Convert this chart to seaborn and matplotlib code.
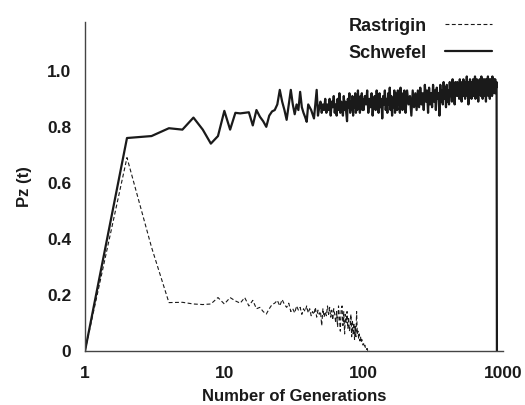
import matplotlib
matplotlib.use("Agg")
import matplotlib.pyplot as plt
import seaborn as sns
import pandas as pd
from matplotlib.ticker import FixedLocator, LogLocator, NullFormatter, FixedFormatter

# ---------------- data ----------------
# Rastrigin: one value per generation 1..110
rastrigin_gen = list(range(1, 111))
rastrigin_pz = [
    0.00, 0.69, 0.37, 0.172, 0.173, 0.167, 0.165, 0.167, 0.19, 0.167,
    0.19, 0.178, 0.17, 0.19, 0.16, 0.18, 0.15, 0.155, 0.14, 0.131,
    0.15, 0.165, 0.17, 0.18, 0.16, 0.183, 0.165, 0.155, 0.17, 0.14,
    0.15, 0.135, 0.16, 0.145, 0.155, 0.13, 0.15, 0.14, 0.16, 0.135,
    0.15, 0.125, 0.14, 0.13, 0.155, 0.12, 0.145, 0.13, 0.14, 0.09,
    0.15, 0.12, 0.14, 0.125, 0.16, 0.13, 0.155, 0.12, 0.145, 0.11,
    0.15, 0.13, 0.10, 0.14, 0.085, 0.16, 0.12, 0.07, 0.15, 0.16,
    0.09, 0.14, 0.06, 0.13, 0.10, 0.14, 0.08, 0.12, 0.07, 0.085,
    0.13, 0.05, 0.11, 0.06, 0.10, 0.04, 0.09, 0.05, 0.14, 0.06,
    0.07, 0.045, 0.06, 0.035, 0.05, 0.03, 0.04, 0.025, 0.02, 0.025,
    0.015, 0.02, 0.01, 0.012, 0.005, 0.008, 0.0, 0.003, 0.0, 0.0,
]

# Schwefel: every generation up to 99, every 2nd to 198, every 5th to 900,
# then the final drop
schwefel_gen = (list(range(1, 100)) + list(range(100, 200, 2))
                + list(range(200, 901, 5)) + [905])
schwefel_pz = [
    # 1-17
    0.00, 0.76, 0.767, 0.795, 0.79, 0.833, 0.79, 0.74, 0.767, 0.857,
    0.79, 0.85, 0.848, 0.85, 0.852, 0.805, 0.86,
    # 18-55
    0.836, 0.82, 0.80, 0.84, 0.855, 0.86, 0.88, 0.932, 0.89, 0.86,
    0.825, 0.88, 0.932, 0.88, 0.845, 0.88, 0.86, 0.925, 0.87, 0.85,
    0.835, 0.818, 0.88, 0.87, 0.86, 0.845, 0.83, 0.88, 0.932, 0.84,
    0.87, 0.89, 0.85, 0.88, 0.86, 0.90, 0.85, 0.88,
    # 56-99
    0.86, 0.90, 0.84, 0.89, 0.87, 0.91, 0.85, 0.88, 0.84, 0.90,
    0.86, 0.92, 0.85, 0.89, 0.87, 0.84, 0.91, 0.86, 0.89, 0.85,
    0.82, 0.90, 0.87, 0.92, 0.85, 0.89, 0.86, 0.91, 0.84, 0.90,
    0.87, 0.92, 0.85, 0.89, 0.86, 0.93, 0.87, 0.90, 0.85, 0.91,
    0.88, 0.92, 0.86, 0.90,
    # 100-198 step 2
    0.86, 0.91, 0.88, 0.93, 0.85, 0.90, 0.87, 0.92, 0.84, 0.89,
    0.91, 0.86, 0.93, 0.88, 0.85, 0.92, 0.87, 0.90, 0.83, 0.91,
    0.88, 0.93, 0.86, 0.90, 0.85, 0.92, 0.88, 0.94, 0.86, 0.91,
    0.84, 0.90, 0.87, 0.93, 0.85, 0.92, 0.89, 0.86, 0.93, 0.88,
    0.91, 0.85, 0.94, 0.87, 0.90, 0.86, 0.92, 0.88, 0.93, 0.87,
    # 200-240 step 5
    0.85, 0.93, 0.88, 0.91, 0.84, 0.93, 0.87, 0.92, 0.86,
    # 245-465
    0.93, 0.87, 0.94, 0.88, 0.92, 0.86, 0.95, 0.89, 0.93, 0.85,
    0.94, 0.88, 0.92, 0.87, 0.95, 0.89, 0.93, 0.86, 0.94, 0.90,
    0.92, 0.84, 0.95, 0.89, 0.93, 0.88, 0.96, 0.90, 0.94, 0.87,
    0.95, 0.89, 0.93, 0.88, 0.96, 0.91, 0.94, 0.89, 0.97, 0.90,
    0.95, 0.88, 0.96, 0.91, 0.94,
    # 470-900
    0.96, 0.91, 0.95, 0.90, 0.97, 0.92, 0.96, 0.89, 0.95, 0.92,
    0.97, 0.91, 0.94, 0.90, 0.96, 0.93, 0.98, 0.91, 0.95, 0.88,
    0.96, 0.92, 0.97, 0.91, 0.95, 0.90, 0.96, 0.93, 0.97, 0.91,
    0.95, 0.92, 0.98, 0.90, 0.96, 0.93, 0.97, 0.91, 0.94, 0.89,
    0.96, 0.92, 0.97, 0.93, 0.95, 0.91, 0.98, 0.92, 0.96, 0.90,
    0.97, 0.93, 0.95, 0.91, 0.97, 0.92, 0.96, 0.89, 0.97, 0.93,
    0.95, 0.92, 0.98, 0.91, 0.96, 0.93, 0.97, 0.90, 0.96, 0.92,
    0.97, 0.93, 0.95, 0.91, 0.98, 0.92, 0.96, 0.94, 0.97, 0.92,
    0.96, 0.93, 0.97, 0.92, 0.95, 0.94, 0.96,
    # final drop
    0.0,
]

y_ticks = [0.0, 0.2, 0.4, 0.6, 0.8, 1.0]
y_tick_labels = ["0", "0.2", "0.4", "0.6", "0.8", "1.0"]
x_ticks = [1, 10, 100, 1000]
x_tick_labels = ["1", "10", "100", "1000"]

# ---------------- plot ----------------
sns.set_style("white")
plt.rcParams["font.family"] = ["Liberation Sans", "DejaVu Sans"]
plt.rcParams["font.weight"] = "bold"

df_r = pd.DataFrame({"gen": rastrigin_gen, "pz": rastrigin_pz})
df_s = pd.DataFrame({"gen": schwefel_gen, "pz": schwefel_pz})

fig = plt.figure(figsize=(5.25, 4.05), dpi=100)
ax = fig.add_axes([0.162, 0.134, 0.796, 0.812])

ink = "#1a1a1a"
sns.lineplot(data=df_r, x="gen", y="pz", ax=ax, color=ink, lw=0.8,
             linestyle=(0, (3.5, 2.2)), label="Rastrigin", estimator=None,
             sort=False)
sns.lineplot(data=df_s, x="gen", y="pz", ax=ax, color=ink, lw=1.6,
             label="Schwefel", estimator=None, sort=False)

ax.set_xscale("log")
ax.set_xlim(1, 1000)
ax.set_ylim(0, 1.175)

ax.xaxis.set_major_locator(FixedLocator(x_ticks))
ax.xaxis.set_major_formatter(FixedFormatter(x_tick_labels))
ax.xaxis.set_minor_locator(LogLocator(base=10, subs=range(2, 10)))
ax.xaxis.set_minor_formatter(NullFormatter())
ax.yaxis.set_major_locator(FixedLocator(y_ticks))
ax.yaxis.set_major_formatter(FixedFormatter(y_tick_labels))

for s in ["top", "right"]:
    ax.spines[s].set_visible(False)
for s in ["left", "bottom"]:
    ax.spines[s].set_color("#444444")
    ax.spines[s].set_linewidth(1.0)

ax.tick_params(axis="both", which="major", direction="out", length=5,
               width=0.9, color="#777777", labelsize=12.5, labelcolor=ink)
ax.tick_params(axis="x", which="minor", direction="out", length=2.5,
               width=0.8, color="#777777")
ax.tick_params(axis="x", which="major", pad=6)
ax.tick_params(axis="y", which="major", pad=5)
for lbl in ax.get_xticklabels() + ax.get_yticklabels():
    lbl.set_fontweight("bold")

ax.set_xlabel("Number of Generations", fontsize=12, fontweight="bold",
              color=ink, labelpad=6)
ax.set_ylabel("Pz (t)", fontsize=12, fontweight="bold", color=ink,
              labelpad=11)

leg = ax.legend(loc="upper right", bbox_to_anchor=(0.99, 1.035), frameon=False,
                markerfirst=False, fontsize=13, handlelength=2.6,
                handletextpad=1.0, labelspacing=0.55, borderaxespad=0.0)
for t in leg.get_texts():
    t.set_fontweight("bold")
    t.set_color(ink)

fig.savefig("out.png", dpi=100)
